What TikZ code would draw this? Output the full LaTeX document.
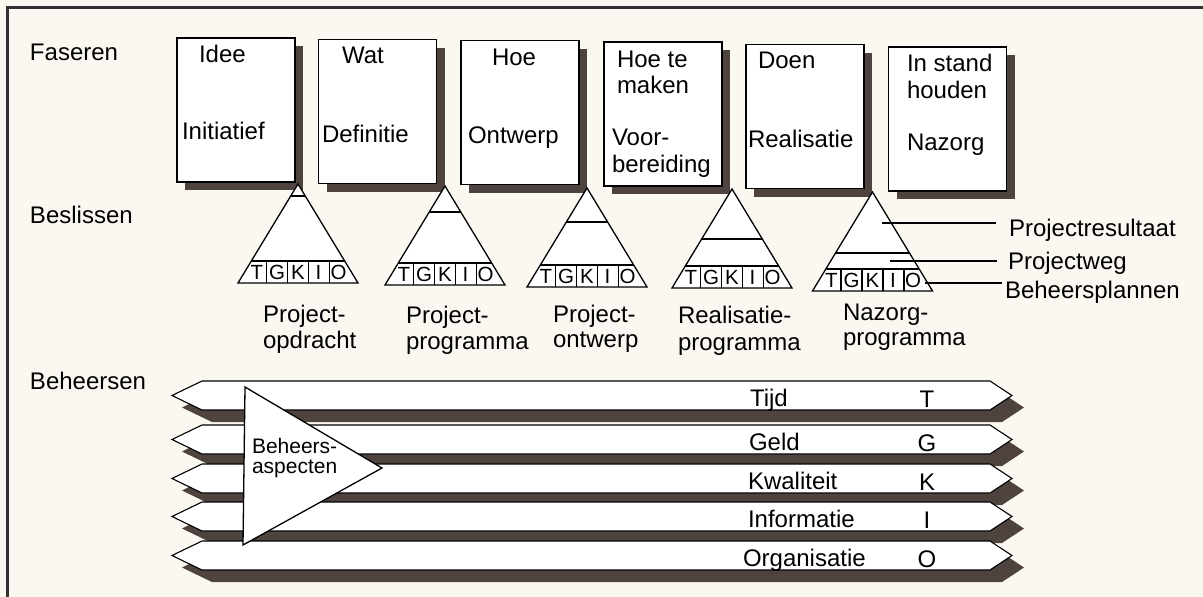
\documentclass[tikz,border=0pt]{standalone}
\usepackage{fontspec}
\setmainfont{Liberation Sans}
\definecolor{bg}{RGB}{251,248,241}
\definecolor{darkshadow}{RGB}{78,67,62}
\definecolor{framecol}{RGB}{50,50,50}
\begin{document}
\begin{tikzpicture}[x=1pt,y=-1pt,
  every node/.style={inner sep=0pt, outer sep=0pt},
  txt/.style={anchor=base west, font=\fontsize{24}{28}\selectfont},
  small/.style={anchor=base west, font=\fontsize{21}{24}\selectfont},
  cell/.style={anchor=base, font=\fontsize{20.5}{22}\selectfont},
  phasebox/.style={draw=black, line width=1.4pt, fill=white, minimum width=118pt, minimum height=144pt},
  boxshadow/.style={fill=darkshadow, fill opacity=1, draw=none, minimum width=118pt, minimum height=144pt},
  tri/.style={draw=black, line width=1.3pt, fill=white, line join=miter},
  thin/.style={line width=1.1pt},
  band/.style={draw=black, line width=1.1pt, fill=white},
  bandshadow/.style={fill=darkshadow, fill opacity=1, draw=none}]
\fill[bg] (0,0) rectangle (1203,597);
\useasboundingbox (0,0) rectangle (1203,597);
% frame (top and left only)
\draw[framecol, line width=3pt] (7,597) -- (7,7) -- (1203,7);

% section labels
\node[txt] (faseren) at (30,60) {Faseren};
\node[txt] (beslissen) at (30,223) {Beslissen};
\node[txt] (beheersen) at (30,389) {Beheersen};

% phase boxes with shadows
\foreach \bx/\by [count=\i] in {236/110, 377.5/111.5, 520/112.5, 663/114, 805/116.5, 947.5/119} {
  \node[boxshadow] (s\i) at (\bx+8,\by+8) {};
  \node[phasebox] (b\i) at (\bx,\by) {};
}

\node[txt] (b1a) at (199,62) {Idee};
\node[txt] (b1b) at (182,139) {Initiatief};
\node[txt] (b2a) at (342,63) {Wat};
\node[txt] (b2b) at (322,142) {Definitie};
\node[txt] (b3a) at (492,65) {Hoe};
\node[txt] (b3b) at (468,143) {Ontwerp};
\node[txt] (b4a) at (617,67) {Hoe te};
\node[txt] (b4b) at (617,93) {maken};
\node[txt] (b4c) at (612,145) {Voor-};
\node[txt] (b4d) at (612,172) {bereiding};
\node[txt] (b5a) at (758,68) {Doen};
\node[txt] (b5b) at (748,147) {Realisatie};
\node[txt] (b6a) at (907,71) {In stand};
\node[txt] (b6b) at (907,98) {houden};
\node[txt] (b6c) at (907,150) {Nazorg};

% decision triangles
\foreach \cx/\by/\k [count=\i] in {298/283/87, 445/285/73, 587/287/65, 732/288/49, 872.5/291/38} {
  \draw[tri] (\cx-60,\by) -- (\cx,\by-99) -- (\cx+60,\by) -- cycle;
  \pgfmathsetmacro\hw{60*(1-\k/99)}
  \draw[thin] (\cx-\hw,\by-\k) -- (\cx+\hw,\by-\k);
  \draw[thin] (\cx-46.7,\by-22) -- (\cx+46.7,\by-22);
  \foreach \d in {-31.5,-10.5,10.5,31.5} \draw[thin] (\cx+\d,\by-22) -- (\cx+\d,\by);
  \foreach \l/\dx in {T/-41,G/-21,K/0,I/20.5,O/40.5} \node[cell] (t\i\l) at (\cx+\dx,\by-4) {\l};
}

% triangle labels
\node[txt] (d1a) at (263,322) {Project-};
\node[txt] (d1b) at (263,348) {opdracht};
\node[txt] (d2a) at (406,323) {Project-};
\node[txt] (d2b) at (406,349) {programma};
\node[txt] (d3a) at (553,322) {Project-};
\node[txt] (d3b) at (553,347) {ontwerp};
\node[txt] (d4a) at (678,323) {Realisatie-};
\node[txt] (d4b) at (678,350) {programma};
\node[txt] (d5a) at (843,320) {Nazorg-};
\node[txt] (d5b) at (843,345) {programma};

% pointer labels
\coordinate (p1) at (882,223);
\coordinate (p2) at (890,261);
\coordinate (p3) at (925,283);
\node[txt] (r1) at (1009,236) {Projectresultaat};
\node[txt] (r2) at (1008,269) {Projectweg};
\node[txt] (r3) at (1005,298) {Beheersplannen};
\draw[thin, shorten >=13pt] (p1) -- (p1 -| r1.west);
\draw[thin, shorten >=11pt] (p2) -- (p2 -| r2.west);
\draw[thin, shorten >=3pt] (p3) -- (p3 -| r3.west);

% control bands
\foreach \ty/\nm/\lt/\nx [count=\i] in {381/Tijd/T/750, 425/Geld/G/749, 464/Kwaliteit/K/748, 502/Informatie/I/748, 541/Organisatie/O/743} {
  \path[bandshadow] (212,\ty+12) -- (1002,\ty+12) -- (1024,\ty+26.5) -- (1002,\ty+41) -- (212,\ty+41) -- (182,\ty+26.5) -- cycle;
  \draw[band] (202,\ty) -- (990,\ty) -- (1012,\ty+14.5) -- (990,\ty+29) -- (202,\ty+29) -- (172,\ty+14.5) -- cycle;
  \node[txt] (n\i) at (\nx,\ty+25) {\nm};
  \node[txt, anchor=base] (l\i) at (927,\ty+26) {\lt};
}

% big triangle
\draw[tri] (245,387) -- (382,468) -- (243,545) -- cycle;
\node[small] (ba1) at (252,453) {Beheers-};
\node[small] (ba2) at (252,473) {aspecten};
\end{tikzpicture}
\end{document}
